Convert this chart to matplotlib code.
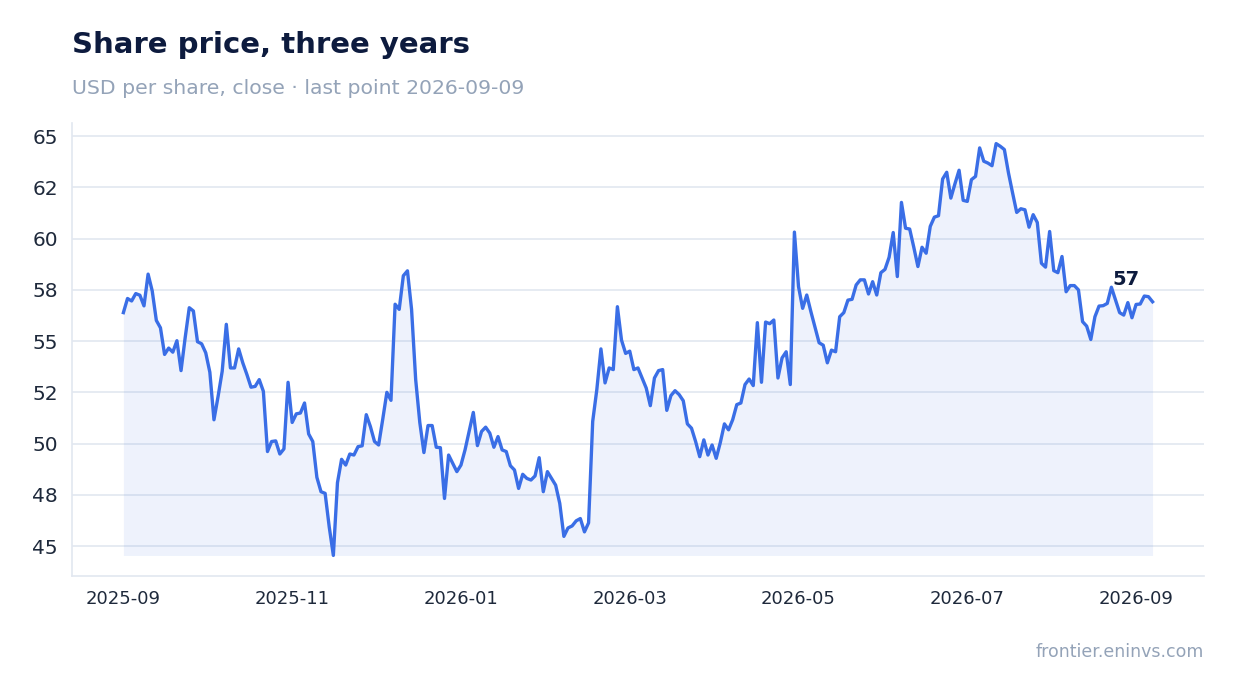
import matplotlib
matplotlib.use("Agg")
import matplotlib.pyplot as plt
import matplotlib.dates as mdates
from matplotlib.ticker import FixedLocator, FuncFormatter
import numpy as np
import pandas as pd

title = "Share price, three years"
subtitle = "USD per share, close \u00b7 last point 2026-09-09"
source = "frontier.eninvs.com"

start_date = "2025-09-01"
end_date = "2026-09-08"

# closing prices
close = [
    56.39, 57.08, 56.96, 57.32, 57.24, 56.72, 58.27, 57.45, 56.01, 55.65,
    54.35, 54.66, 54.46, 55.02, 53.56, 55.16, 56.63, 56.47, 54.97, 54.87,
    54.43, 53.48, 51.16, 52.30, 53.53, 55.82, 53.69, 53.69, 54.62, 53.94,
    53.37, 52.75, 52.79, 53.12, 52.55, 49.61, 50.10, 50.13, 49.49, 49.74,
    52.99, 51.03,
    51.45, 51.49, 51.98, 50.47, 50.10, 48.35, 47.65, 47.57, 45.93, 44.54,
    48.09, 49.23, 48.95, 49.49, 49.44, 49.85, 49.89, 51.41, 50.83, 50.10,
    49.93, 51.19, 52.50, 52.11, 56.80, 56.55, 58.19, 58.43, 56.55, 53.12,
    51.03, 49.56, 50.88, 50.88, 49.82, 49.80, 47.32, 49.44, 49.03, 48.63,
    48.95,
    49.70, 50.60, 51.52, 49.90, 50.59, 50.80, 50.51, 49.82, 50.34, 49.69,
    49.61, 48.92, 48.71, 47.81, 48.50, 48.30, 48.22, 48.42, 49.31, 47.65,
    48.63, 48.30, 47.97, 47.08, 45.47, 45.88, 45.98, 46.23, 46.34, 45.69,
    46.13, 51.08, 52.63, 54.62, 52.96, 53.69, 53.61, 56.68, 55.05, 54.40,
    54.51, 53.61, 53.69,
    53.20, 52.71, 51.85, 53.20, 53.56, 53.61, 51.62, 52.34, 52.58, 52.39,
    52.09, 50.96, 50.75, 50.10, 49.36, 50.18, 49.44, 49.93, 49.28, 50.05,
    50.96, 50.67, 51.16, 51.90, 51.98, 52.88, 53.15, 52.83, 55.90, 52.99,
    55.93, 55.85, 56.03, 53.20, 54.18, 54.48, 52.88, 60.32,
    57.66, 56.60, 57.25, 56.44, 55.67, 54.92, 54.80, 53.94, 54.56, 54.48,
    56.19, 56.39, 57.00, 57.04, 57.74, 57.99, 57.99, 57.30, 57.90, 57.25,
    58.34, 58.50, 59.09, 60.30, 58.15, 61.77, 60.51, 60.47, 59.58, 58.64,
    59.58, 59.29, 60.60, 61.05, 61.12, 62.91, 63.24, 61.98, 62.68, 63.34,
    61.87, 61.82, 62.88, 63.04,
    64.43, 63.78, 63.69, 63.56, 64.64, 64.51, 64.35, 63.21, 62.23, 61.28,
    61.46, 61.41, 60.56, 61.17, 60.79, 58.80, 58.61, 60.35, 58.44, 58.34,
    59.13, 57.41, 57.71, 57.71, 57.50, 55.95, 55.73, 55.08, 56.19, 56.71,
    56.73, 56.84, 57.63, 57.01, 56.39, 56.27, 56.88, 56.14, 56.79, 56.81,
    57.20, 57.17, 56.92,
]

y_ticks = [45, 47.5, 50, 52.5, 55, 57.5, 60, 62.5, 65]

dates = pd.date_range(start_date, end_date, periods=len(close))
prices = np.array(close)

# x ticks sit at even time steps from the first date
x_ticks = pd.date_range(start_date, periods=7, freq="61D")

line_col = "#3a6ee6"
navy = "#0d1b3e"
muted = "#94a3b8"
grid_col = "#e2e7f0"

fig = plt.figure(figsize=(12.34, 6.93), dpi=100)
ax = fig.add_axes([0.0583, 0.1688, 0.9174, 0.6537])

ax.fill_between(dates, prices, prices.min(), color=line_col, alpha=0.085, lw=0)
ax.plot(dates, prices, color=line_col, lw=2.4, solid_joinstyle="round")

ax.yaxis.set_major_locator(FixedLocator(y_ticks))
ax.yaxis.set_major_formatter(FuncFormatter(lambda v, p: "{:.0f}".format(v)))
ax.xaxis.set_major_locator(FixedLocator(mdates.date2num(x_ticks)))
ax.xaxis.set_major_formatter(mdates.DateFormatter("%Y-%m"))

ax.grid(axis="y", color=grid_col, lw=1.2)
ax.set_axisbelow(True)
for s in ["top", "right"]:
    ax.spines[s].set_visible(False)
for s in ["left", "bottom"]:
    ax.spines[s].set_color(grid_col)
    ax.spines[s].set_linewidth(1.2)

ax.tick_params(axis="y", length=0, pad=10, labelsize=14.5, labelcolor="#1e293b")
ax.tick_params(axis="x", length=0, pad=10, labelsize=13, labelcolor="#1e293b")

# last value label
ax.annotate("{:.0f}".format(prices[-1]), (dates[-1], prices[-1]),
            xytext=(-9, 9), textcoords="offset points",
            ha="right", va="bottom", fontsize=14, fontweight="bold", color=navy)

fig.text(0.0583, 0.9235, title, fontsize=21, fontweight="bold", color=navy, va="baseline")
fig.text(0.0583, 0.864, subtitle, fontsize=14.7, color=muted, va="baseline")
fig.text(0.9757, 0.052, source, fontsize=12.5, color=muted, ha="right", va="baseline")

fig.savefig("out.png", dpi=100)
